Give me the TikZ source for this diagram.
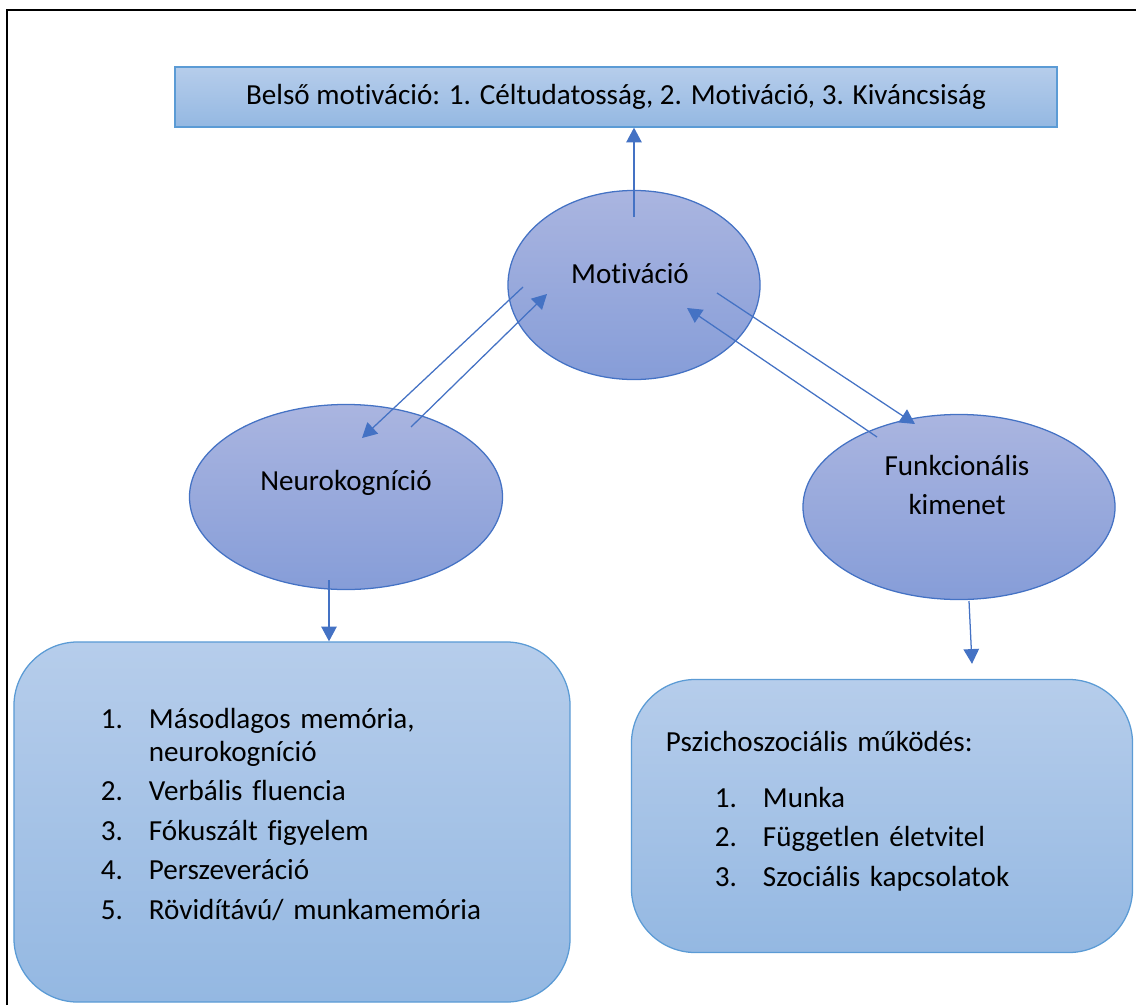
\documentclass[tikz,border=0pt]{standalone}
\usepackage{fontspec}
\setmainfont{Carlito}[Ligatures=NoCommon]
\usetikzlibrary{shapes,arrows.meta,calc,positioning}
\definecolor{ellline}{RGB}{68,114,196}
\definecolor{elltop}{RGB}{170,181,224}
\definecolor{ellbot}{RGB}{134,157,216}
\definecolor{boxline}{RGB}{91,155,213}
\definecolor{boxtop}{RGB}{182,205,235}
\definecolor{boxbot}{RGB}{148,184,226}
\tikzstyle{topbox} = [rectangle, draw=boxline, line width=0.9pt,
    top color=boxtop, bottom color=boxbot, minimum width=22.05cm, minimum height=1.5cm]
\tikzstyle{bubble} = [ellipse, draw=ellline, line width=0.9pt,
    top color=elltop, bottom color=ellbot, inner sep=0pt]
\tikzstyle{listbox} = [rectangle, draw=boxline, line width=0.9pt, rounded corners=1.6cm,
    top color=boxtop, bottom color=boxbot, align=left]
\tikzstyle{line} = [draw=ellline, line width=0.9pt, -{Triangle[length=10.5pt,width=11pt]}]

\begin{document}
\begin{tikzpicture}[x=0.025cm, y=-0.025cm, font=\fontsize{20.7}{28}\selectfont]
    \useasboundingbox (0,0) rectangle (1136,1005);
    % frame
    \draw[line width=1.8pt] (7,1005) -- (7,10) -- (1136,10);
    % Place nodes
    \node [topbox] (inner) at (616,97) {Belső motiváció: 1. Céltudatosság, 2. Motiváció, 3. Kiváncsiság};
    \node [bubble, minimum width=6.3cm, minimum height=4.725cm,
        label={[xshift=-0.1cm, yshift=0.275cm]center:Motiváció}] (motiv) at (634,285) {};
    \node [bubble, minimum width=7.825cm, minimum height=4.625cm,
        label={[yshift=0.35cm]center:Neurokogníció}] (neuro) at (346,497) {};
    \node [bubble, minimum width=7.8cm, minimum height=4.625cm,
        label={[align=center, xshift=-0.05cm, yshift=0.55cm]center:{Funkcionális\\kimenet}}] (funk) at (959,507) {};
    \node [listbox, minimum width=13.9cm, minimum height=9cm, inner xsep=2.175cm, text width=9.55cm] (cogbox) at (292,822) {%
        \raisebox{4.3pt}[\height][\depth]{\begin{tabular}{@{}p{1.2cm}@{}l@{}}
        1. & Másodlagos memória,\\[-4.5pt]
           & neurokogníció\\
        2. & Verbális fluencia\\
        3. & Fókuszált figyelem\\
        4. & Perszeveráció\\
        5. & Rövidítávú/ munkamemória
        \end{tabular}}};
    \node [listbox, minimum width=12.525cm, minimum height=6.825cm, inner xsep=0.85cm, text width=10.8cm] (psybox) at (882,816) {%
        \raisebox{3.8pt}[\height][\depth]{\begin{tabular}{@{\hspace{1.225cm}}p{1.2cm}@{}l@{}}
        \multicolumn{2}{@{}l@{}}{Pszichoszociális működés:}\\[12pt]
        1. & Munka\\
        2. & Független életvitel\\
        3. & Szociális kapcsolatok
        \end{tabular}}};
    % arrow ends
    \coordinate (mup) at ($(motiv.center)+(0,-68)$);
    \coordinate (mleft) at ($(motiv.center)+(-111,2)$);
    \coordinate (mlefttip) at ($(motiv.center)+(-87,9)$);
    \coordinate (mright) at ($(motiv.center)+(83,8)$);
    \coordinate (mrighttip) at ($(motiv.center)+(53,23)$);
    \coordinate (nup) at ($(neuro.center)+(65,-70)$);
    \coordinate (nuptip) at ($(neuro.center)+(16,-59)$);
    \coordinate (ndown) at ($(neuro.center)+(-17,83)$);
    \coordinate (fup) at ($(funk.center)+(-82,-70)$);
    \coordinate (fuptip) at ($(funk.center)+(-44,-83)$);
    \coordinate (fdown) at ($(funk.center)+(10,94)$);
    \coordinate (psytip) at ($(psybox.north)+(90,-15)$);
    % Draw edges
    \path [line] (mup) -- (mup |- inner.south);
    \path [line] (mleft) -- (nuptip);
    \path [line] (nup) -- (mlefttip);
    \path [line] (mright) -- (fuptip);
    \path [line] (fup) -- (mrighttip);
    \path [line] (ndown) -- (ndown |- cogbox.north);
    \path [line] (fdown) -- (psytip);
\end{tikzpicture}
\end{document}
